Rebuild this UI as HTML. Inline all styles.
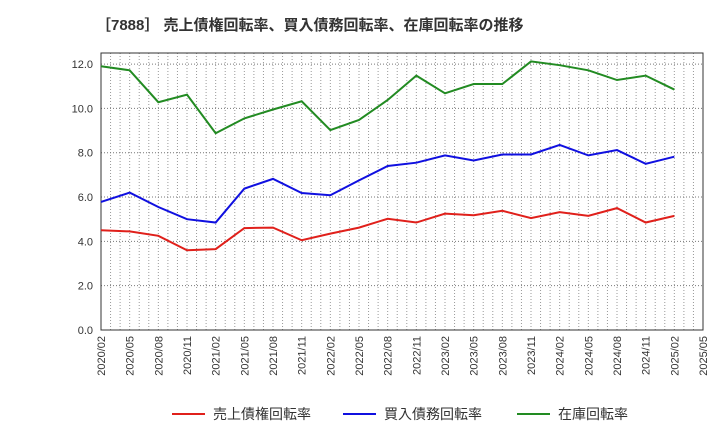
<!DOCTYPE html>
<html><head><meta charset="utf-8"><style>
body{margin:0;background:#fff;font-family:"Liberation Sans","Noto Sans CJK JP",sans-serif;}
</style></head><body>
<svg id="c" width="720" height="440" xmlns="http://www.w3.org/2000/svg">
<text x="96" y="30" font-size="15" font-weight="bold" fill="#333" font-family="Liberation Sans, Noto Sans CJK JP, sans-serif">［7888］ 売上債権回転率、買入債務回転率、在庫回転率の推移</text>
<g id="grid"></g><g id="axes"></g><g id="series"></g><g id="legend"></g>
</svg>
<script>
const xLabels=["2020/02","2020/05","2020/08","2020/11","2021/02","2021/05","2021/08","2021/11","2022/02","2022/05","2022/08","2022/11","2023/02","2023/05","2023/08","2023/11","2024/02","2024/05","2024/08","2024/11","2025/02","2025/05"];
const yTicks=[0,2,4,6,8,10,12];
const seriesNames=["売上債権回転率","買入債務回転率","在庫回転率"];
const receivables=[4.5,4.45,4.25,3.6,3.65,4.6,4.62,4.05,4.35,4.62,5.02,4.85,5.25,5.18,5.38,5.05,5.32,5.15,5.5,4.85,5.15];
const payables=[5.78,6.2,5.55,5.0,4.85,6.38,6.82,6.18,6.08,6.75,7.4,7.55,7.88,7.65,7.92,7.92,8.35,7.88,8.12,7.5,7.82];
const inventory=[11.9,11.72,10.28,10.62,8.88,9.55,9.95,10.32,9.02,9.48,10.38,11.48,10.68,11.1,11.1,12.12,11.95,11.72,11.28,11.48,10.85];
const colors=["#e0201b","#1010e0","#228b22"];
const L=101,R=703,T=53,B=330,yMax=12.5;
const NS="http://www.w3.org/2000/svg";
const step=(R-L)/(xLabels.length-1);
const xs=i=>L+i*step, ys=v=>B-(v/yMax)*(B-T);
function mk(t,a,p){const e=document.createElementNS(NS,t);for(const k in a)e.setAttribute(k,a[k]);p.appendChild(e);return e;}
const g=document.getElementById('grid'),ax=document.getElementById('axes'),s=document.getElementById('series'),lg=document.getElementById('legend');
for(let m=1;m<(xLabels.length-1)*3;m++){const x=L+m*step/3;
const l=mk('line',{x1:x,x2:x,y1:T,y2:B,stroke:'#999','stroke-dasharray':'1,2','stroke-width':1},g);
}
yTicks.forEach(v=>{const y=ys(v);
const l=mk('line',{x1:L,x2:R,y1:y,y2:y,stroke:'#777','stroke-dasharray':'1,2'},g);

const t=mk('text',{x:L-8,y:y+4,'text-anchor':'end','font-size':11,fill:'#333'},ax);t.textContent=v.toFixed(1);
});
const fr=mk('rect',{x:L,y:T,width:R-L,height:B-T,fill:'none',stroke:'#333'},ax);

xLabels.forEach((lb,i)=>{const x=xs(i);
const t=mk('text',{x:x+4,y:B+6,'text-anchor':'end','font-size':11,fill:'#333',transform:`rotate(-90 ${x+4} ${B+6})`},ax);t.textContent=lb;
});
[receivables,payables,inventory].forEach((d,k)=>{
const p=mk('polyline',{points:d.map((v,i)=>xs(i)+','+ys(v)).join(' '),fill:'none',stroke:colors[k],'stroke-width':2},s);

const lx=[172,343,517][k];
const ll=mk('line',{x1:lx,x2:lx+33,y1:414,y2:414,stroke:colors[k],'stroke-width':2},lg);

const t=mk('text',{x:lx+41,y:419,'font-size':14,fill:'#333'},lg);t.textContent=seriesNames[k];
});
</script>
</body></html>
